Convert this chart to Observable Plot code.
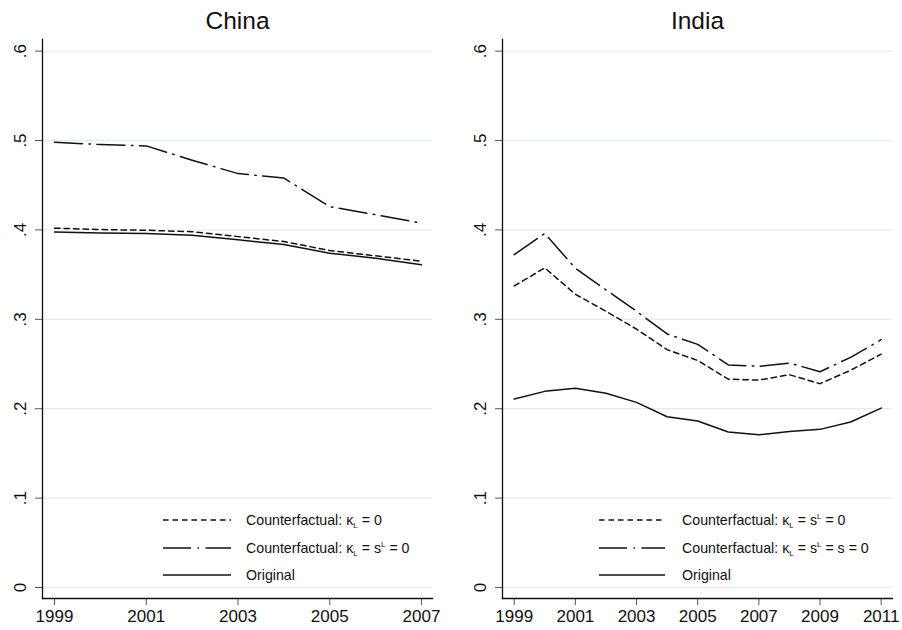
<!DOCTYPE html>
<html>
<head>
<meta charset="utf-8">
<script src="https://cdn.jsdelivr.net/npm/d3@7"></script>
<script src="https://cdn.jsdelivr.net/npm/@observablehq/plot@0.6"></script>
<style>
  html, body { margin: 0; padding: 0; background: #fff; }
  #wrap { position: relative; width: 902px; height: 630px; font-family: "Liberation Sans", Arial, sans-serif; }
  #wrap > svg { position: absolute; top: 0; }
  .legend { position: absolute; font-size: 14.2px; color: #111; }
  .row { position: absolute; left: 0; white-space: nowrap; height: 20px; line-height: 20px; }
  .row svg { position: absolute; top: 0; left: 0; }
  .row span.t { position: absolute; top: 0; line-height: 20px; }
  sub, sup { font-size: 8px; line-height: 0; position: relative; vertical-align: baseline; }
  sub { top: 3px; }
  sup { top: -6px; }
</style>
</head>
<body>
<div id="wrap"></div>
<script>
// ---- data ----
const chinaYears = [1999, 2000, 2001, 2002, 2003, 2004, 2005, 2006, 2007];
const chinaCf1 = [0.402, 0.4004, 0.3996, 0.398, 0.3925, 0.387, 0.377, 0.371, 0.365];      // κL = 0
const chinaCf2 = [0.498, 0.4955, 0.494, 0.478, 0.463, 0.458, 0.426, 0.417, 0.4075];       // κL = s^L = 0
const chinaOrig = [0.3978, 0.3966, 0.3959, 0.394, 0.389, 0.3836, 0.374, 0.3683, 0.361];

const indiaYears = [1999, 2000, 2001, 2002, 2003, 2004, 2005, 2006, 2007, 2008, 2009, 2010, 2011];
const indiaCf1 = [0.3373, 0.3575, 0.328, 0.309, 0.289, 0.266, 0.254, 0.233, 0.232, 0.238, 0.228, 0.243, 0.261];   // κL = s^L = 0
const indiaCf2 = [0.3724, 0.396, 0.357, 0.333, 0.309, 0.2836, 0.272, 0.249, 0.2474, 0.2511, 0.2414, 0.2575, 0.2772]; // κL = s^L = s = 0
const indiaOrig = [0.2108, 0.2194, 0.2228, 0.2172, 0.2071, 0.191, 0.1862, 0.1739, 0.1709, 0.1746, 0.1769, 0.1851, 0.2007];

const yTicks = [0, 0.1, 0.2, 0.3, 0.4, 0.5, 0.6];
const yTickLabels = ["0", ".1", ".2", ".3", ".4", ".5", ".6"];
const chinaXTicks = [1999, 2001, 2003, 2005, 2007];
const indiaXTicks = [1999, 2001, 2003, 2005, 2007, 2009, 2011];

const chinaLegend = [
  'Counterfactual: κ<sub>L</sub> = 0',
  'Counterfactual: κ<sub>L</sub> = s<sup>L</sup> = 0',
  'Original'
];
const indiaLegend = [
  'Counterfactual: κ<sub>L</sub> = s<sup>L</sup> = 0',
  'Counterfactual: κ<sub>L</sub> = s<sup>L</sup> = s = 0',
  'Original'
];

const DASH = "5.5,4";
const DASHDOT = "28,6.5,1.5,6.5";
const styles = [DASH, DASHDOT, null];

function series(years, a, b, c) {
  const out = [];
  [a, b, c].forEach((arr, k) => arr.forEach((v, i) => out.push({year: years[i], value: v, s: k})));
  return out;
}

function panel({title, xTicks, xDomain, width, marginRight, data}) {
  const marks = [
    Plot.gridY(yTicks, {stroke: "#e4eef1", strokeOpacity: 1, strokeWidth: 1.3}),
    Plot.axisY(yTicks, {tickSize: 7, stroke: "#555", tickFormat: () => "", label: null}),
    Plot.text(yTicks, {y: d => d, frameAnchor: "left", dx: -22, rotate: -90, text: (d, i) => yTickLabels[i],
      textAnchor: "middle", lineAnchor: "middle", fontSize: 17, fill: "#111"}),
    Plot.axisX(xTicks, {tickSize: 7, stroke: "#555", tickPadding: 4, fontSize: 17, tickFormat: d => String(d), label: null, color: "#111"}),
  ];
  [0, 1, 2].forEach(k => {
    marks.push(Plot.line(data.filter(d => d.s === k), {
      x: "year", y: "value", stroke: "#111", strokeWidth: 1.5,
      strokeDasharray: styles[k] || undefined, curve: "linear"
    }));
  });
  marks.push(Plot.frame({anchor: "left", stroke: "#111", strokeWidth: 1.3}));
  marks.push(Plot.frame({anchor: "bottom", stroke: "#111", strokeWidth: 1.3}));
  marks.push(Plot.text([title], {frameAnchor: "top", dy: -11, lineAnchor: "bottom", fontSize: 24.5, fill: "#111", text: d => d}));
  return Plot.plot({
    width, height: 630,
    marginLeft: 42, marginRight, marginTop: 39, marginBottom: 32,
    style: {fontFamily: "'Liberation Sans', Arial, sans-serif", fontSize: "17px", color: "#111", background: "transparent"},
    x: {domain: xDomain, label: null},
    y: {domain: [-0.0123, 0.613], label: null},
    marks
  });
}

const wrap = document.getElementById("wrap");

const p1 = panel({
  title: "China", xTicks: chinaXTicks, xDomain: [1998.738, 2007.24],
  width: 460, marginRight: 28, data: series(chinaYears, chinaCf1, chinaCf2, chinaOrig)
});
p1.style.left = "0px";
wrap.appendChild(p1);

const p2 = panel({
  title: "India", xTicks: indiaXTicks, xDomain: [1998.617, 2011.37],
  width: 442, marginRight: 10, data: series(indiaYears, indiaCf1, indiaCf2, indiaOrig)
});
p2.style.left = "460px";
wrap.appendChild(p2);

function legend(left, top, lineW, gap, labels, boxW, boxH) {
  const div = document.createElement("div");
  div.className = "legend";
  div.style.left = left + "px";
  div.style.top = top + "px";
  div.style.width = boxW + "px";
  div.style.height = boxH + "px";
  div.style.background = "#fff";
  labels.forEach((lab, k) => {
    const row = document.createElement("div");
    row.className = "row";
    row.style.top = (8 + k * 27.7) + "px";
    row.style.left = "8px";
    const dash = styles[k] ? `stroke-dasharray="${styles[k]}"` : "";
    row.innerHTML = `<svg width="${lineW}" height="20"><line x1="0" x2="${lineW}" y1="10" y2="10" stroke="#111" stroke-width="1.5" ${dash}/></svg>` +
      `<span class="t" style="left:${lineW + gap}px">${lab}</span>`;
    div.appendChild(row);
  });
  wrap.appendChild(div);
}
legend(155, 502, 68, 15, chinaLegend, 270, 82);
legend(591, 502, 66, 17, indiaLegend, 295, 78);
</script>
</body>
</html>
